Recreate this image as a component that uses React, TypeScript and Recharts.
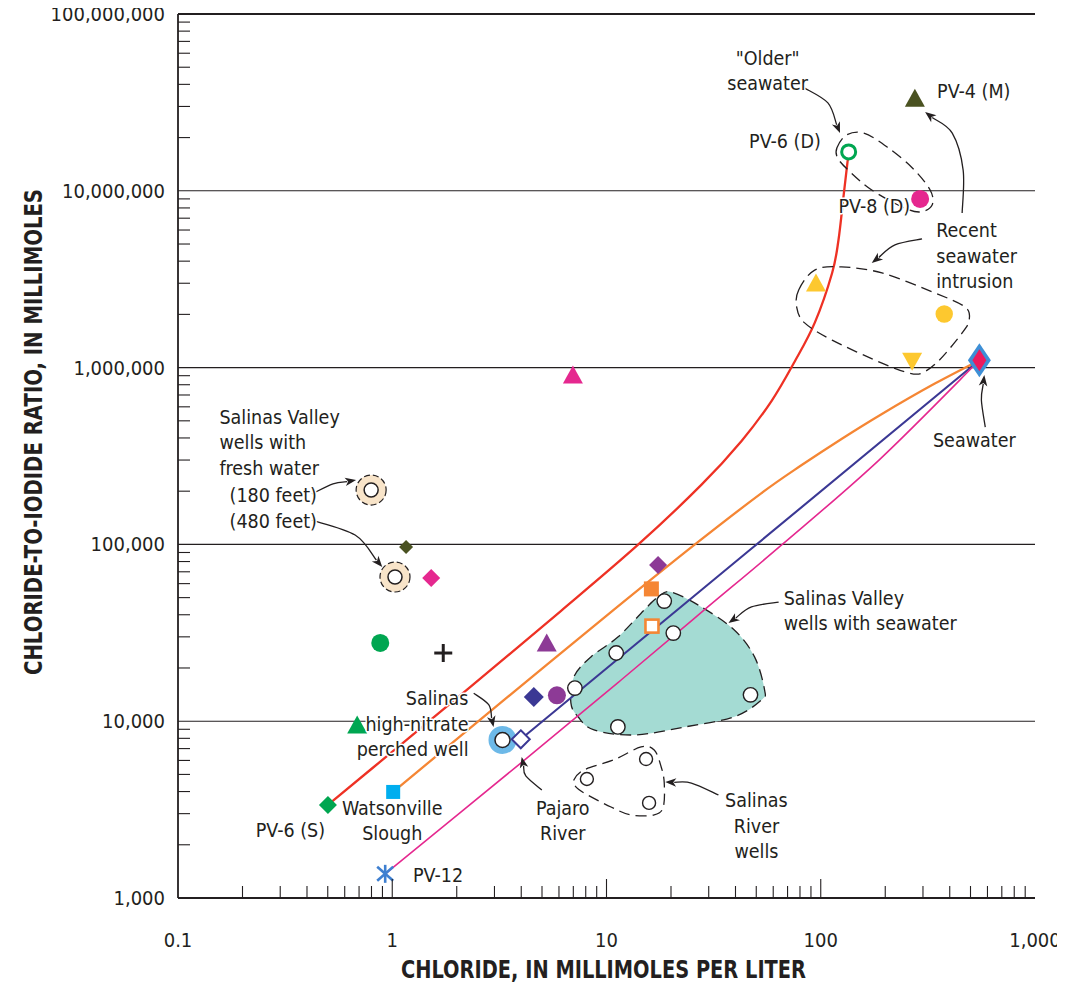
import React from 'react';
import { ScatterChart, Scatter, XAxis, YAxis, CartesianGrid } from 'recharts';

type P = { cl: number; ratio: number };
type XY = { x: number; y: number };

// ---------- axes ----------
const xMajorTicks = [0.1, 1, 10, 100, 1000];
const xTickLabels = ['0.1', '1', '10', '100', '1,000'];
const yMajorTicks = [1000, 10000, 100000, 1000000, 10000000, 100000000];
const yTickLabels = ['1,000', '10,000', '100,000', '1,000,000', '10,000,000', '100,000,000'];
const yGridValues = [10000, 100000, 1000000, 10000000];
const minorSteps = [2, 3, 4, 5, 6, 7, 8, 9];
const xTitle = 'CHLORIDE, IN MILLIMOLES PER LITER';
const yTitle = 'CHLORIDE-TO-IODIDE RATIO, IN MILLIMOLES';

// ---------- mixing curves ----------
const redCurve: P[] = [
  { cl: 0.501, ratio: 3360 }, { cl: 1.13, ratio: 7600 }, { cl: 2.25, ratio: 15200 },
  { cl: 6.12, ratio: 42000 }, { cl: 14.0, ratio: 99300 }, { cl: 27.7, ratio: 217000 },
  { cl: 42.7, ratio: 385000 }, { cl: 58.9, ratio: 647000 }, { cl: 75.5, ratio: 1080000 },
  { cl: 93.7, ratio: 1790000 }, { cl: 113, ratio: 3430000 }, { cl: 121, ratio: 5270000 },
  { cl: 128, ratio: 9500000 }, { cl: 135, ratio: 16600000 },
];
const orangeCurve: P[] = [
  { cl: 1.01, ratio: 3980 }, { cl: 3.2, ratio: 12700 }, { cl: 10.8, ratio: 42600 },
  { cl: 25.7, ratio: 99300 }, { cl: 52.9, ratio: 195000 }, { cl: 81.5, ratio: 281000 },
  { cl: 125, ratio: 395000 }, { cl: 193, ratio: 547000 }, { cl: 331, ratio: 797000 },
  { cl: 550, ratio: 1100000 },
];
const navyLine: P[] = [{ cl: 3.98, ratio: 7900 }, { cl: 550, ratio: 1100000 }];
const magentaLine: P[] = [
  { cl: 0.927, ratio: 1370 }, { cl: 3.98, ratio: 5800 }, { cl: 11.7, ratio: 17100 },
  { cl: 28.6, ratio: 42600 }, { cl: 65.7, ratio: 99300 }, { cl: 187, ratio: 300000 },
  { cl: 550, ratio: 1100000 },
];

// ---------- samples ----------
const seawater: P[] = [{ cl: 550, ratio: 1100000 }];
const pv4M: P[] = [{ cl: 275, ratio: 33000000 }];
const pv6D: P[] = [{ cl: 135, ratio: 16600000 }];
const pv8D: P[] = [{ cl: 291, ratio: 9000000 }];
const recentTriangleUp: P[] = [{ cl: 95, ratio: 2970000 }];
const recentCircle: P[] = [{ cl: 377, ratio: 2010000 }];
const recentTriangleDown: P[] = [{ cl: 267, ratio: 1100000 }];
const magentaTriangle: P[] = [{ cl: 6.97, ratio: 897000 }];
const freshWaterWells: P[] = [{ cl: 0.797, ratio: 203000 }, { cl: 1.03, ratio: 65400 }];
const oliveDiamond: P[] = [{ cl: 1.16, ratio: 96700 }];
const magentaDiamond: P[] = [{ cl: 1.52, ratio: 64600 }];
const purpleDiamond: P[] = [{ cl: 17.4, ratio: 76500 }];
const orangeSquare: P[] = [{ cl: 16.2, ratio: 56000 }];
const orangeOpenSquare: P[] = [{ cl: 16.3, ratio: 34500 }];
const greenCircle: P[] = [{ cl: 0.879, ratio: 27700 }];
const blackPlus: P[] = [{ cl: 1.73, ratio: 24300 }];
const purpleTriangle: P[] = [{ cl: 5.26, ratio: 27300 }];
const navyDiamond: P[] = [{ cl: 4.58, ratio: 13700 }];
const purpleCircle: P[] = [{ cl: 5.87, ratio: 14000 }];
const greenTriangle: P[] = [{ cl: 0.686, ratio: 9390 }];
const highNitrateWell: P[] = [{ cl: 3.27, ratio: 7830 }];
const pajaroRiver: P[] = [{ cl: 3.98, ratio: 7900 }];
const watsonvilleSlough: P[] = [{ cl: 1.01, ratio: 3980 }];
const pv6S: P[] = [{ cl: 0.501, ratio: 3360 }];
const pv12: P[] = [{ cl: 0.927, ratio: 1370 }];
const seawaterWells: P[] = [
  { cl: 18.6, ratio: 47800 }, { cl: 20.5, ratio: 31500 }, { cl: 11.1, ratio: 24300 },
  { cl: 7.12, ratio: 15400 }, { cl: 47.0, ratio: 14100 }, { cl: 11.3, ratio: 9280 },
];
const riverWells: P[] = [{ cl: 8.1, ratio: 4710 }, { cl: 15.3, ratio: 6110 }, { cl: 15.8, ratio: 3450 }];

// ---------- outlines ----------
const seawaterWellsOutline: P[] = [
  { cl: 17.4, ratio: 50400 }, { cl: 20.0, ratio: 53800 }, { cl: 27.7, ratio: 44300 }, { cl: 39.5, ratio: 32800 },
  { cl: 49.1, ratio: 23100 }, { cl: 54.7, ratio: 15000 }, { cl: 52.9, ratio: 13200 }, { cl: 39.5, ratio: 10600 },
  { cl: 23.1, ratio: 9270 }, { cl: 13.5, ratio: 8360 }, { cl: 8.74, ratio: 8920 }, { cl: 7.36, ratio: 10600 },
  { cl: 6.82, ratio: 12700 }, { cl: 7.04, ratio: 17800 }, { cl: 8.46, ratio: 23100 }, { cl: 11.3, ratio: 29900 },
  { cl: 15.0, ratio: 42600 },
];
const olderOutline: P[] = [
  { cl: 119, ratio: 17500000 }, { cl: 132, ratio: 20700000 }, { cl: 159, ratio: 21200000 }, { cl: 204, ratio: 17700000 },
  { cl: 267, ratio: 13500000 }, { cl: 324, ratio: 10100000 }, { cl: 331, ratio: 8310000 }, { cl: 291, ratio: 7590000 },
  { cl: 240, ratio: 8100000 }, { cl: 173, ratio: 10100000 }, { cl: 137, ratio: 12800000 }, { cl: 120, ratio: 15300000 },
];
const recentOutline: P[] = [
  { cl: 78.9, ratio: 2750000 }, { cl: 93.7, ratio: 3560000 }, { cl: 125, ratio: 3710000 }, { cl: 193, ratio: 3430000 },
  { cl: 342, ratio: 2640000 }, { cl: 472, ratio: 2200000 }, { cl: 493, ratio: 1860000 }, { cl: 457, ratio: 1570000 },
  { cl: 357, ratio: 1100000 }, { cl: 297, ratio: 932000 }, { cl: 258, ratio: 932000 }, { cl: 193, ratio: 1060000 },
  { cl: 113, ratio: 1430000 }, { cl: 84.1, ratio: 1790000 }, { cl: 77.2, ratio: 2200000 },
];
const riverWellsOutline: P[] = [
  { cl: 7.04, ratio: 4650 }, { cl: 7.85, ratio: 5300 }, { cl: 10.8, ratio: 6040 }, { cl: 14.5, ratio: 7150 },
  { cl: 16.7, ratio: 6870 }, { cl: 18.0, ratio: 5510 }, { cl: 18.6, ratio: 4470 }, { cl: 18.4, ratio: 3270 },
  { cl: 16.7, ratio: 2950 }, { cl: 13.0, ratio: 2950 }, { cl: 10.5, ratio: 3270 }, { cl: 7.85, ratio: 3930 },
  { cl: 7.2, ratio: 4250 },
];

// ---------- annotation arrows ----------
const arrowOlder: P[] = [{ cl: 84.1, ratio: 38100000 }, { cl: 108, ratio: 31400000 }, { cl: 123, ratio: 21200000 }];
const arrowRecentPv4: P[] = [{ cl: 457, ratio: 7490000 }, { cl: 462, ratio: 13100000 }, { cl: 411, ratio: 21200000 }, { cl: 307, ratio: 27900000 }];
const arrowRecentBlob: P[] = [{ cl: 297, ratio: 5340000 }, { cl: 222, ratio: 4940000 }, { cl: 173, ratio: 3910000 }];
const arrowSeawater: P[] = [{ cl: 586, ratio: 461000 }, { cl: 562, ratio: 656000 }, { cl: 580, ratio: 908000 }];
const arrowSeawaterWells: P[] = [{ cl: 63.6, ratio: 47200 }, { cl: 47.5, ratio: 44300 }, { cl: 37.1, ratio: 35900 }];
const arrow180: P[] = [{ cl: 0.422, ratio: 193000 }, { cl: 0.529, ratio: 220000 }, { cl: 0.678, ratio: 231000 }];
const arrow480: P[] = [{ cl: 0.422, ratio: 137000 }, { cl: 0.671, ratio: 113000 }, { cl: 0.898, ratio: 74500 }];
const arrowHighNitrate: P[] = [{ cl: 2.4, ratio: 14400 }, { cl: 2.82, ratio: 12400 }, { cl: 2.97, ratio: 9270 }];
const arrowPajaro: P[] = [{ cl: 4.99, ratio: 4080 }, { cl: 4.2, ratio: 4900 }, { cl: 4.02, ratio: 6280 }];
const arrowRiverWells: P[] = [{ cl: 33.3, ratio: 3830 }, { cl: 24.9, ratio: 4470 }, { cl: 18.8, ratio: 4530 }];

// ---------- annotation text ----------
const annotations = [
  { cl: 56.5, ratio: 56400000, lines: ['"Older"', 'seawater'], align: 'middle' },
  { cl: 349, ratio: 36700000, lines: ['PV-4 (M)'], align: 'start' },
  { cl: 100, ratio: 19100000, lines: ['PV-6 (D)'], align: 'end' },
  { cl: 121, ratio: 8200000, lines: ['PV-8 (D)'], align: 'start' },
  { cl: 346, ratio: 6000000, lines: ['Recent', 'seawater', 'intrusion'], align: 'start' },
  { cl: 521, ratio: 389000, lines: ['Seawater'], align: 'middle' },
  { cl: 0.156, ratio: 526000, lines: ['Salinas Valley', 'wells with', 'fresh water'], align: 'start' },
  { cl: 0.174, ratio: 190000, lines: ['(180 feet)', '(480 feet)'], align: 'start' },
  { cl: 67.1, ratio: 49800, lines: ['Salinas Valley', 'wells with seawater'], align: 'start' },
  { cl: 2.27, ratio: 13500, lines: ['Salinas', 'high-nitrate', 'perched well'], align: 'end' },
  { cl: 6.25, ratio: 3230, lines: ['Pajaro', 'River'], align: 'middle' },
  { cl: 50.1, ratio: 3580, lines: ['Salinas', 'River', 'wells'], align: 'middle' },
  { cl: 1.0, ratio: 3230, lines: ['Watsonville', 'Slough'], align: 'middle' },
  { cl: 0.486, ratio: 2420, lines: ['PV-6 (S)'], align: 'end' },
  { cl: 1.25, ratio: 1350, lines: ['PV-12'], align: 'start' },
];

// ---------- styling ----------
const FONT = "'DejaVu Sans Condensed', 'DejaVu Sans', sans-serif";
const INK = '#231f20';
const C = {
  olive: '#4a5221', green: '#00a651', magenta: '#e5288f', yellow: '#fdc82f', seaBlue: '#3d8fd6',
  seaRed: '#ec1a5e', red: '#ee3124', orange: '#f58634', navy: '#3b3894', purple: '#8d3a96',
  cyan: '#00aeef', star: '#3e7fd0', teal: '#a4dbd3', beige: '#f8e4c9', ring: '#6db9e8',
};
const TM = 10;
const LABEL_SIZE = 19.5;
const LINE_H = 25.5;

const withMinor = (majors: number[]) =>
  majors.flatMap((m, i) => (i < majors.length - 1 ? [m, ...minorSteps.map((s) => m * s)] : [m]));
const xAllTicks = withMinor(xMajorTicks);
const yAllTicks = withMinor(yMajorTicks);
const majorIndex = (majors: number[], v: number) =>
  majors.findIndex((m) => Math.abs(Math.log10(m) - Math.log10(v)) < 1e-6);

function splinePath(pts: XY[], closed: boolean): string {
  const n = pts.length;
  if (n < 2) return '';
  const get = (i: number) => (closed ? pts[(i + n) % n] : pts[Math.max(0, Math.min(n - 1, i))]);
  let d = `M${pts[0].x},${pts[0].y}`;
  const segs = closed ? n : n - 1;
  for (let i = 0; i < segs; i++) {
    const p0 = get(i - 1), p1 = get(i), p2 = get(i + 1), p3 = get(i + 2);
    const c1x = p1.x + (p2.x - p0.x) / 6, c1y = p1.y + (p2.y - p0.y) / 6;
    const c2x = p2.x - (p3.x - p1.x) / 6, c2y = p2.y - (p3.y - p1.y) / 6;
    d += ` C${c1x},${c1y} ${c2x},${c2y} ${p2.x},${p2.y}`;
  }
  if (closed) d += ' Z';
  return d;
}

const Empty = () => <g />;

const blob = (fill: string) => (props: any) => (
  <path d={splinePath(props.points || [], true)} fill={fill} stroke={INK} strokeWidth={1.3} strokeDasharray="11 6" />
);
const smoothLine = (color: string, w: number) => (props: any) => (
  <path d={splinePath(props.points || [], false)} fill="none" stroke={color} strokeWidth={w} strokeLinecap="round" />
);

const ArrowLine = (props: any) => {
  const pts: XY[] = props.points || [];
  const n = pts.length;
  if (n < 2) return <g />;
  const e = pts[n - 1], b = pts[n - 2];
  const ang = Math.atan2(e.y - b.y, e.x - b.x);
  const L = 11, W = 4.3;
  const bx = e.x - L * Math.cos(ang), by = e.y - L * Math.sin(ang);
  const px = -Math.sin(ang) * W, py = Math.cos(ang) * W;
  const body = pts.slice(0, n - 1).concat([{ x: bx + 2 * Math.cos(ang), y: by + 2 * Math.sin(ang) }]);
  return (
    <g>
      <path d={splinePath(body, false)} fill="none" stroke={INK} strokeWidth={1.3} />
      <path d={`M${e.x},${e.y} L${bx + px},${by + py} L${bx + 3 * Math.cos(ang)},${by + 3 * Math.sin(ang)} L${bx - px},${by - py} Z`} fill={INK} />
    </g>
  );
};

// marker shapes
const tri = (color: string) => (p: any) => (
  <polygon points={`${p.cx},${p.cy - 10.5} ${p.cx + 10},${p.cy + 7.5} ${p.cx - 10},${p.cy + 7.5}`} fill={color} />
);
const triDown = (color: string) => (p: any) => (
  <polygon points={`${p.cx - 10},${p.cy - 7.5} ${p.cx + 10},${p.cy - 7.5} ${p.cx},${p.cy + 10.5}`} fill={color} />
);
const dot = (color: string, r = 9) => (p: any) => <circle cx={p.cx} cy={p.cy} r={r} fill={color} />;
const diamond = (color: string, h = 9.5) => (p: any) => (
  <polygon points={`${p.cx},${p.cy - h} ${p.cx + h},${p.cy} ${p.cx},${p.cy + h} ${p.cx - h},${p.cy}`} fill={color} />
);
const square = (color: string, s = 15) => (p: any) => (
  <rect x={p.cx - s / 2} y={p.cy - s / 2} width={s} height={s} fill={color} />
);
const openSquare = (color: string) => (p: any) => (
  <rect x={p.cx - 6.5} y={p.cy - 6.5} width={13} height={13} fill="#fff" stroke={color} strokeWidth={2.6} />
);
const openCircle = (color: string) => (p: any) => (
  <circle cx={p.cx} cy={p.cy} r={7} fill="#fff" stroke={color} strokeWidth={3} />
);
const openDiamond = (color: string) => (p: any) => (
  <polygon points={`${p.cx},${p.cy - 9} ${p.cx + 9},${p.cy} ${p.cx},${p.cy + 9} ${p.cx - 9},${p.cy}`} fill="#fff" stroke={color} strokeWidth={2} />
);
const whiteDot = (r: number) => (p: any) => (
  <circle cx={p.cx} cy={p.cy} r={r} fill="#fff" stroke={INK} strokeWidth={1.4} />
);
const freshRing = (p: any) => (
  <g>
    <circle cx={p.cx} cy={p.cy} r={15} fill={C.beige} stroke={INK} strokeWidth={1.2} strokeDasharray="6 3" />
    <circle cx={p.cx} cy={p.cy} r={7} fill="#fff" stroke={INK} strokeWidth={1.5} />
  </g>
);
const blueRing = (p: any) => (
  <g>
    <circle cx={p.cx} cy={p.cy} r={14} fill={C.ring} />
    <circle cx={p.cx} cy={p.cy} r={7.5} fill="#fff" stroke={INK} strokeWidth={1.5} />
  </g>
);
const seawaterMark = (p: any) => (
  <g>
    <polygon points={`${p.cx},${p.cy - 17} ${p.cx + 11.5},${p.cy} ${p.cx},${p.cy + 17} ${p.cx - 11.5},${p.cy}`} fill={C.seaBlue} />
    <polygon points={`${p.cx},${p.cy - 11} ${p.cx + 7},${p.cy} ${p.cx},${p.cy + 11} ${p.cx - 7},${p.cy}`} fill={C.seaRed} />
  </g>
);
const plus = (p: any) => (
  <g stroke={INK} strokeWidth={3}>
    <line x1={p.cx - 9} x2={p.cx + 9} y1={p.cy} y2={p.cy} />
    <line x1={p.cx} x2={p.cx} y1={p.cy - 9} y2={p.cy + 9} />
  </g>
);
const asterisk = (p: any) => (
  <g stroke={C.star} strokeWidth={2.6}>
    <line x1={p.cx} x2={p.cx} y1={p.cy - 9} y2={p.cy + 9} />
    <line x1={p.cx - 8} x2={p.cx + 8} y1={p.cy - 7} y2={p.cy + 7} />
    <line x1={p.cx - 8} x2={p.cx + 8} y1={p.cy + 7} y2={p.cy - 7} />
  </g>
);

const LabelShape = (props: any) => {
  const d = props.payload || props;
  const lines: string[] = d.lines || [];
  return (
    <text
      textAnchor={d.align}
      fontFamily={FONT}
      fontSize={LABEL_SIZE}
      fill={INK}
      stroke="#fff"
      strokeWidth={3}
      paintOrder="stroke"
      strokeLinejoin="round"
    >
      {lines.map((l, i) => (
        <tspan key={i} x={props.cx} y={props.cy + 7 + i * LINE_H}>
          {l}
        </tspan>
      ))}
    </text>
  );
};

// axis ticks
const LeftTick = (props: any) => {
  const { x, y, payload } = props;
  const ax = x + TM;
  const idx = majorIndex(yMajorTicks, payload.value);
  if (idx >= 0)
    return (
      <text x={ax - 13} y={y + 7} textAnchor="end" fontFamily={FONT} fontSize={20} fill={INK}>
        {yTickLabels[idx]}
      </text>
    );
  return <line x1={ax} x2={ax + 12} y1={y} y2={y} stroke={INK} strokeWidth={1.1} />;
};
const RightTick = (props: any) => {
  const { x, y, payload } = props;
  const idx = majorIndex(yMajorTicks, payload.value);
  if (idx >= 0) return <g />;
  return <line x1={x} x2={x - 12} y1={y} y2={y} stroke={INK} strokeWidth={1.1} />;
};
const BottomTick = (props: any) => {
  const { x, y, payload } = props;
  const ay = y - TM;
  const idx = majorIndex(xMajorTicks, payload.value);
  const len = idx < 0 ? 12 : idx > 0 && idx < xMajorTicks.length - 1 ? 19 : 0;
  return (
    <g>
      {len > 0 && <line x1={x} x2={x} y1={ay} y2={ay - len} stroke={INK} strokeWidth={1.1} />}
      {idx >= 0 && (
        <text x={x} y={ay + 49} textAnchor="middle" fontFamily={FONT} fontSize={20} fill={INK}>
          {xTickLabels[idx]}
        </text>
      )}
    </g>
  );
};
const TopTick = (props: any) => {
  const { x, y, payload } = props;
  const idx = majorIndex(xMajorTicks, payload.value);
  const len = idx < 0 ? 12 : idx > 0 && idx < xMajorTicks.length - 1 ? 20 : 0;
  if (!len) return <g />;
  return <line x1={x} x2={x} y1={y} y2={y + len} stroke={INK} strokeWidth={1.1} />;
};

const XTitle = (props: any) => {
  const vb = props.viewBox || { x: 0, y: 0, width: 0, height: 0 };
  return (
    <text x={vb.x + vb.width / 2 - 3} y={vb.y + 80} textAnchor="middle" fontFamily="'DejaVu Sans', sans-serif"
      fontWeight="bold" fontSize={25} fill={INK} textLength={405} lengthAdjust="spacingAndGlyphs">
      {xTitle}
    </text>
  );
};
const YTitle = (props: any) => {
  const vb = props.viewBox || { x: 0, y: 0, width: 0, height: 0 };
  const cx = vb.x + 25;
  const cy = vb.y + vb.height / 2 - 24;
  return (
    <text x={cx} y={cy} transform={`rotate(-90 ${cx} ${cy})`} textAnchor="middle" fontFamily="'DejaVu Sans', sans-serif"
      fontWeight="bold" fontSize={25} fill={INK} textLength={486} lengthAdjust="spacingAndGlyphs" dy={9}>
      {yTitle}
    </text>
  );
};

const axisLine = { stroke: INK, strokeWidth: 1.8 };

export default function App() {
  const s = (key: string, data: any[], shape: any) => (
    <Scatter key={key} data={data} shape={shape} isAnimationActive={false} legendType="none" />
  );
  const curve = (key: string, data: P[], color: string, w: number) => (
    <Scatter key={key} data={data} shape={Empty} isAnimationActive={false} legendType="none" line={smoothLine(color, w)} />
  );
  const area = (key: string, data: P[], fill: string) => (
    <Scatter key={key} data={data} shape={Empty} isAnimationActive={false} legendType="none" line={blob(fill)} />
  );
  const arrow = (key: string, data: P[]) => (
    <Scatter key={key} data={data} shape={Empty} isAnimationActive={false} legendType="none" line={ArrowLine} />
  );

  return (
    <div style={{ background: '#fff', width: 1057, height: 987, marginTop: -8 }}>
      <ScatterChart width={1057} height={987} margin={{ top: 13, right: 30, bottom: 0, left: 0 }}>
        <CartesianGrid horizontal vertical={false} horizontalValues={yGridValues} stroke={INK} strokeWidth={1.1} />
        <XAxis xAxisId={0} dataKey="cl" type="number" scale="log" domain={[0.1, 1000]} ticks={xAllTicks}
          interval={0} orientation="bottom" height={89} tickSize={0} tickMargin={TM} tickLine={false}
          axisLine={axisLine} tick={(p: any) => <BottomTick {...p} />} label={{ content: XTitle }} />
        <XAxis xAxisId="top" dataKey="cl" type="number" scale="log" domain={[0.1, 1000]} ticks={xAllTicks}
          interval={0} orientation="top" height={1} tickSize={0} tickMargin={0} tickLine={false}
          axisLine={axisLine} tick={(p: any) => <TopTick {...p} />} />
        <YAxis yAxisId={0} dataKey="ratio" type="number" scale="log" domain={[1000, 100000000]} ticks={yAllTicks}
          interval={0} orientation="left" width={170} tickSize={0} tickMargin={TM} tickLine={false}
          axisLine={axisLine} tick={(p: any) => <LeftTick {...p} />} label={{ content: YTitle }} />
        <YAxis yAxisId="right" dataKey="ratio" type="number" scale="log" domain={[1000, 100000000]} ticks={yAllTicks}
          interval={0} orientation="right" width={0} tickSize={0} tickMargin={0} tickLine={false}
          axisLine={axisLine} tick={(p: any) => <RightTick {...p} />} />

        {area('seawaterWellsArea', seawaterWellsOutline, C.teal)}
        {curve('red', redCurve, C.red, 2.3)}
        {curve('orange', orangeCurve, C.orange, 2.3)}
        {curve('navy', navyLine, C.navy, 2.1)}
        {curve('magenta', magentaLine, C.magenta, 1.6)}
        {area('olderArea', olderOutline, 'none')}
        {area('recentArea', recentOutline, 'none')}
        {area('riverArea', riverWellsOutline, 'none')}

        {s('pv4M', pv4M, tri(C.olive))}
        {s('pv6D', pv6D, openCircle(C.green))}
        {s('pv8D', pv8D, dot(C.magenta))}
        {s('recentUp', recentTriangleUp, tri(C.yellow))}
        {s('recentCircle', recentCircle, dot(C.yellow, 8.7))}
        {s('recentDown', recentTriangleDown, triDown(C.yellow))}
        {s('magentaTriangle', magentaTriangle, tri(C.magenta))}
        {s('fresh', freshWaterWells, freshRing)}
        {s('oliveDiamond', oliveDiamond, diamond(C.olive, 7))}
        {s('magentaDiamond', magentaDiamond, diamond(C.magenta, 9))}
        {s('purpleDiamond', purpleDiamond, diamond(C.purple, 9))}
        {s('orangeSquare', orangeSquare, square(C.orange, 15))}
        {s('orangeOpenSquare', orangeOpenSquare, openSquare(C.orange))}
        {s('greenCircle', greenCircle, dot(C.green, 9))}
        {s('plus', blackPlus, plus)}
        {s('purpleTriangle', purpleTriangle, tri(C.purple))}
        {s('navyDiamond', navyDiamond, diamond(C.navy, 10))}
        {s('purpleCircle', purpleCircle, dot(C.purple, 9))}
        {s('greenTriangle', greenTriangle, tri(C.green))}
        {s('highNitrate', highNitrateWell, blueRing)}
        {s('pajaro', pajaroRiver, openDiamond(C.navy))}
        {s('watsonville', watsonvilleSlough, square(C.cyan, 14))}
        {s('pv6S', pv6S, diamond(C.green, 9))}
        {s('pv12', pv12, asterisk)}
        {s('seawaterWells', seawaterWells, whiteDot(7.2))}
        {s('riverWells', riverWells, whiteDot(6.5))}
        {s('seawater', seawater, seawaterMark)}

        {arrow('aOlder', arrowOlder)}
        {arrow('aRecentPv4', arrowRecentPv4)}
        {arrow('aRecentBlob', arrowRecentBlob)}
        {arrow('aSeawater', arrowSeawater)}
        {arrow('aSeawaterWells', arrowSeawaterWells)}
        {arrow('a180', arrow180)}
        {arrow('a480', arrow480)}
        {arrow('aHighNitrate', arrowHighNitrate)}
        {arrow('aPajaro', arrowPajaro)}
        {arrow('aRiverWells', arrowRiverWells)}

        {s('labels', annotations, LabelShape)}
      </ScatterChart>
    </div>
  );
}
